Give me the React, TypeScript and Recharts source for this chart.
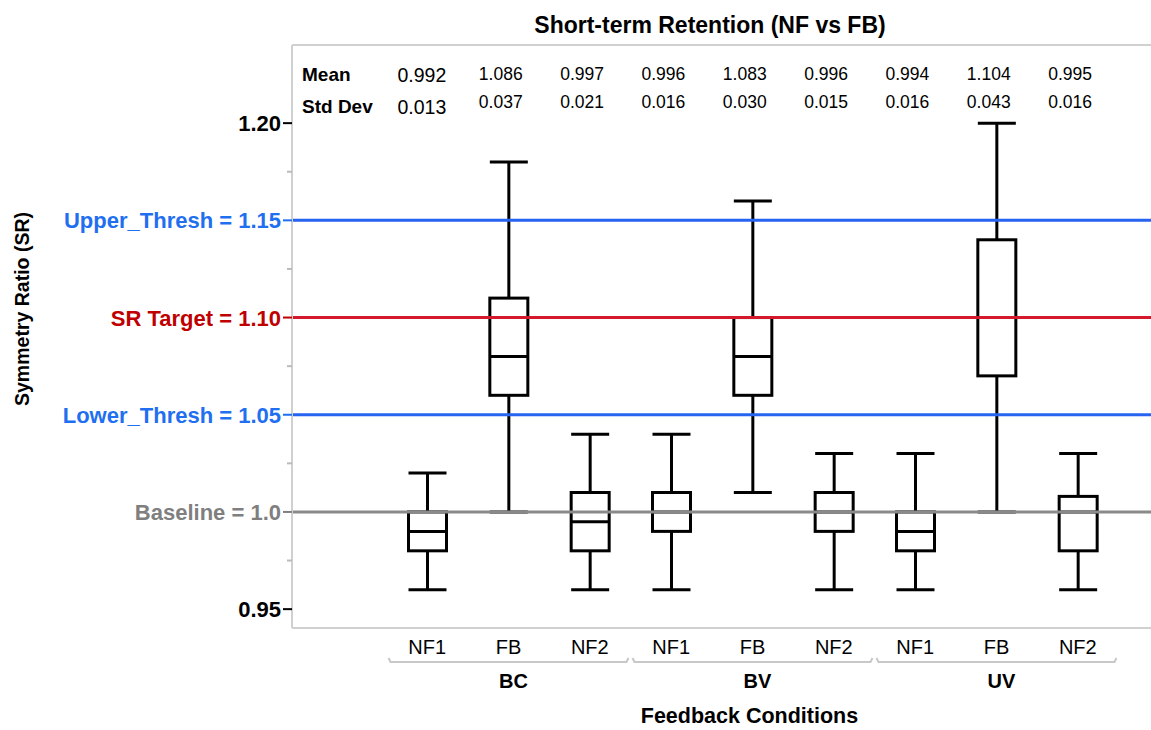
import React from "react";
import {
  ComposedChart,
  Bar,
  XAxis,
  YAxis,
  ReferenceLine,
} from "recharts";

const categories = ["NF1", "FB", "NF2", "NF1", "FB", "NF2", "NF1", "FB", "NF2"];
const groups = ["BC", "BV", "UV"];

const whiskerLow = [0.96, 1.0, 0.96, 0.96, 1.01, 0.96, 0.96, 1.0, 0.96];
const quart1 = [0.98, 1.06, 0.98, 0.99, 1.06, 0.99, 0.98, 1.07, 0.98];
const medians = [0.99, 1.08, 0.995, 1.0, 1.08, 1.0, 0.99, 1.1, 1.0];
const quart3 = [1.0, 1.11, 1.01, 1.01, 1.1, 1.01, 1.0, 1.14, 1.008];
const whiskerHigh = [1.02, 1.18, 1.04, 1.04, 1.16, 1.03, 1.03, 1.2, 1.03];

const means = ["0.992", "1.086", "0.997", "0.996", "1.083", "0.996", "0.994", "1.104", "0.995"];
const stdDevs = ["0.013", "0.037", "0.021", "0.016", "0.030", "0.015", "0.016", "0.043", "0.016"];

const refValues = [1.15, 1.1, 1.05, 1.0];
const refColors = ["#2563f0", "#d4192c", "#2563f0", "#8a8a8a"];

const yTicks = [0.95, 0.975, 1.0, 1.025, 1.05, 1.075, 1.1, 1.125, 1.15, 1.175, 1.2];
const yTickLabels: Record<string, string> = {
  "0.95": "0.95",
  "1": "Baseline = 1.0",
  "1.05": "Lower_Thresh = 1.05",
  "1.1": "SR Target = 1.10",
  "1.15": "Upper_Thresh = 1.15",
  "1.2": "1.20",
};
const yTickColors: Record<string, string> = {
  "0.95": "#000",
  "1": "#7f7f7f",
  "1.05": "#1f6ff0",
  "1.1": "#c00000",
  "1.15": "#1f6ff0",
  "1.2": "#000",
};

const Y_MIN = 0.9403;
const Y_MAX = 1.2402;

const data = categories.map((c, i) => ({
  name: c,
  low: whiskerLow[i],
  q1: quart1[i],
  median: medians[i],
  q3: quart3[i],
  high: whiskerHigh[i],
  mean: means[i],
  sd: stdDevs[i],
}));

const FONT = "'Liberation Sans', Arial, sans-serif";

function BoxShape(props: any) {
  const { x, y, width, height, payload, index } = props;
  const top = Math.min(y, y + height);
  const h = Math.abs(height);
  const ppu = h / (payload.high - payload.low);
  const py = (v: number) => top + (payload.high - v) * ppu;
  const cx = x + width / 2;
  const half = 19;
  const first = index === 0;
  return (
    <g>
      <line x1={cx} x2={cx} y1={py(payload.high)} y2={py(payload.q3)} stroke="#000" strokeWidth={3} />
      <line x1={cx} x2={cx} y1={py(payload.q1)} y2={py(payload.low)} stroke="#000" strokeWidth={3} />
      <line x1={cx - half} x2={cx + half} y1={py(payload.high)} y2={py(payload.high)} stroke="#000" strokeWidth={3} />
      <line x1={cx - half} x2={cx + half} y1={py(payload.low)} y2={py(payload.low)} stroke="#000" strokeWidth={3} />
      <rect
        x={cx - half}
        y={py(payload.q3)}
        width={half * 2}
        height={py(payload.q1) - py(payload.q3)}
        fill="none"
        stroke="#000"
        strokeWidth={3}
      />
      <line x1={cx - half} x2={cx + half} y1={py(payload.median)} y2={py(payload.median)} stroke="#000" strokeWidth={3} />
      <text x={cx - 30} y={first ? 82 : 80} fontSize={first ? 19.5 : 17.5} fontFamily={FONT} fill="#000">
        {payload.mean}
      </text>
      <text x={cx - 30} y={first ? 114 : 108} fontSize={first ? 19.5 : 17.5} fontFamily={FONT} fill="#000">
        {payload.sd}
      </text>
    </g>
  );
}

function YTick(props: any) {
  const { x, y, payload } = props;
  const key = String(payload.value);
  const label = yTickLabels[key];
  const color = yTickColors[key] || "#aaa";
  const major = label !== undefined;
  return (
    <g>
      <line x1={x - (major ? 9 : 5)} x2={x} y1={y} y2={y} stroke={major ? color : "#bbb"} strokeWidth={2} />
      {major && (
        <text
          x={x - 11}
          y={y}
          dy={8}
          textAnchor="end"
          fontSize={22}
          fontWeight="bold"
          fontFamily={FONT}
          fill={color}
        >
          {label}
        </text>
      )}
    </g>
  );
}

function XTick(props: any) {
  const { x, y, payload, index } = props;
  const g = Math.floor(index / 3);
  return (
    <g>
      <text x={x} y={y + 26} textAnchor="middle" fontSize={20} fontFamily={FONT} fill="#000">
        {payload.value}
      </text>
      {index % 3 === 1 && (
        <g>
          <path
            d={`M${x - 120},${y + 30} L${x - 118},${y + 34} L${x + 118},${y + 34} L${x + 120},${y + 30}`}
            fill="none"
            stroke="#c8c8c8"
            strokeWidth={2}
          />
          <text x={x + 5} y={y + 60} textAnchor="middle" fontSize={20} fontWeight="bold" fontFamily={FONT} fill="#000">
            {groups[g]}
          </text>
        </g>
      )}
      {index === 4 && (
        <text x={x - 3} y={y + 95} textAnchor="middle" fontSize={21.5} fontWeight="bold" fontFamily={FONT} fill="#000">
          Feedback Conditions
        </text>
      )}
    </g>
  );
}

export default function App() {
  return (
    <div style={{ position: "absolute", left: 0, top: 0, width: 1151, height: 730, background: "#fff" }}>
      <ComposedChart
        width={1151}
        height={730}
        data={data}
        margin={{ top: 45, right: 0, bottom: 0, left: 0 }}
      >
        <XAxis
          dataKey="name"
          interval={0}
          height={102}
          padding={{ left: 94.5, right: 32.5 }}
          tickSize={0}
          tickMargin={0}
          tickLine={false}
          axisLine={{ stroke: "#d0d0d0", strokeWidth: 2 }}
          tick={<XTick />}
        />
        <YAxis
          type="number"
          domain={[Y_MIN, Y_MAX]}
          allowDataOverflow
          ticks={yTicks}
          width={292}
          tickSize={0}
          tickMargin={0}
          tickLine={false}
          axisLine={{ stroke: "#d0d0d0", strokeWidth: 2 }}
          tick={<YTick />}
        />
        <ReferenceLine y={Y_MAX} stroke="#d0d0d0" strokeWidth={2} ifOverflow="visible" />
        {refValues.map((v, i) => (
          <ReferenceLine key={v} y={v} stroke={refColors[i]} strokeWidth={3} />
        ))}
        <Bar
          dataKey={(d: any) => [d.low, d.high]}
          barSize={40}
          shape={<BoxShape />}
          isAnimationActive={false}
        />
      </ComposedChart>
      <svg
        width={1151}
        height={730}
        style={{ position: "absolute", left: 0, top: 0, pointerEvents: "none" }}
      >
        <text x={710} y={33} textAnchor="middle" fontSize={23} fontWeight="bold" fontFamily={FONT} fill="#000">
          Short-term Retention (NF vs FB)
        </text>
        <text
          transform="translate(29,309) rotate(-90)"
          textAnchor="middle"
          fontSize={19.5}
          fontWeight="bold"
          fontFamily={FONT}
          fill="#000"
        >
          Symmetry Ratio (SR)
        </text>
        <text x={302} y={81} fontSize={19} fontWeight="bold" fontFamily={FONT} fill="#000">
          Mean
        </text>
        <text x={302} y={113} fontSize={19} fontWeight="bold" fontFamily={FONT} fill="#000">
          Std Dev
        </text>
      </svg>
    </div>
  );
}
